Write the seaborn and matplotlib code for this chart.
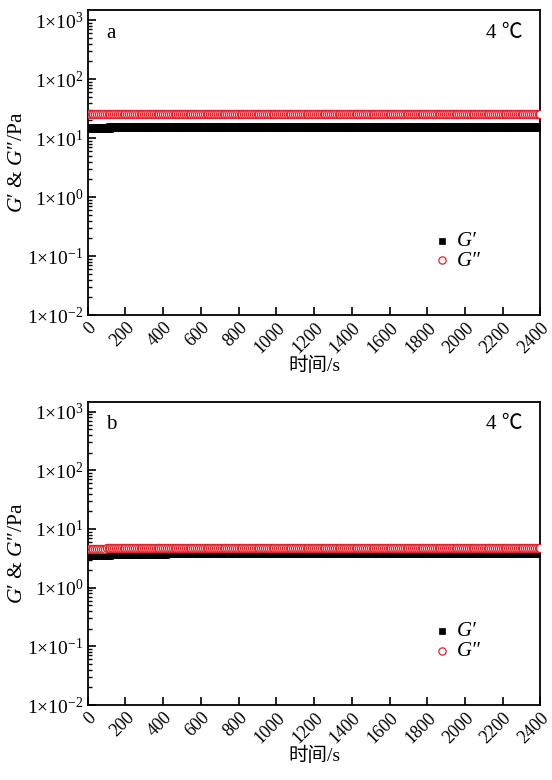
import warnings
warnings.filterwarnings("ignore")

import numpy as np
import pandas as pd
import matplotlib
matplotlib.use("Agg")
import matplotlib.pyplot as plt
import matplotlib.ticker as mticker
import seaborn as sns

###### DATA ######
# sampling grid of the time sweep (s)
time_s = np.arange(0, 2401, 10)
n_pts = len(time_s)

# panel a values (Pa)
g_storage_a = [14.8] * 12 + [15.5] * (n_pts - 12)
g_loss_a = [26.0] * n_pts

# panel b values (Pa)
g_storage_b = [3.6] * 12 + [3.75] * 30 + [3.85] * (n_pts - 42)
g_loss_b = [4.6] * 10 + [4.75] * (n_pts - 10)

x_ticks = list(range(0, 2401, 200))
y_ticks = [1e-2, 1e-1, 1e0, 1e1, 1e2, 1e3]
y_labels = ['1×10$^{-2}$', '1×10$^{-1}$', '1×10$^{0}$',
            '1×10$^{1}$', '1×10$^{2}$', '1×10$^{3}$']

panels = [('a', g_storage_a, g_loss_a), ('b', g_storage_b, g_loss_b)]
temp_label = '4 \u2103'

###### STYLE ######
sns.set_style('ticks')
plt.rcParams['font.family'] = ['Liberation Serif', 'Noto Sans CJK SC', 'DejaVu Sans']
plt.rcParams['mathtext.fontset'] = 'custom'
plt.rcParams['mathtext.rm'] = 'Liberation Serif'
plt.rcParams['mathtext.it'] = 'Liberation Serif:italic'
plt.rcParams['axes.linewidth'] = 1.3
plt.rcParams['axes.edgecolor'] = 'black'
for key in ['text.color', 'axes.labelcolor', 'xtick.color', 'ytick.color']:
    plt.rcParams[key] = 'black'

fig = plt.figure(figsize=(5.52, 7.80), dpi=100)
ax_boxes = [[0.159, 0.596, 0.82, 0.391], [0.159, 0.096, 0.82, 0.389]]

for box, (letter, g1, g2) in zip(ax_boxes, panels):
    ax = fig.add_axes(box)
    df = pd.DataFrame({'time': time_s, 'gp': g1, 'gpp': g2})

    # G' filled squares, G'' open red circles
    sns.scatterplot(data=df, x='time', y='gp', marker='s', s=30, color='black',
                    edgecolor='black', linewidth=0.5, ax=ax, label='G′', zorder=3)
    sns.scatterplot(data=df, x='time', y='gpp', marker='o', s=34, facecolor='white',
                    edgecolor='#e0202a', linewidth=0.9, ax=ax, label='G″', zorder=4)

    ax.set_yscale('log')
    ax.set_xlim(0, 2400)
    ax.set_ylim(1e-2, 1.47e3)
    ax.set_xticks(x_ticks)
    ax.set_xticklabels([str(t) for t in x_ticks], rotation=45, ha='right',
                       rotation_mode='anchor', fontsize=13)
    ax.set_yticks(y_ticks)
    ax.set_yticklabels(y_labels, fontsize=14)
    ax.yaxis.set_minor_locator(mticker.LogLocator(base=10, subs=np.arange(2, 10)))
    ax.yaxis.set_minor_formatter(mticker.NullFormatter())
    ax.tick_params(axis='both', which='major', direction='in', length=6, width=1.2,
                   top=False, right=False, pad=3)
    ax.tick_params(axis='y', which='minor', direction='in', length=3, width=1.0,
                   right=False)
    ax.tick_params(axis='x', which='major', pad=3)

    ax.set_xlabel('时间/s', fontsize=14, labelpad=0)
    ax.set_ylabel('$G$′ & $G$″/Pa', fontsize=15.5, labelpad=0)

    ax.text(0.04, 0.925, letter, transform=ax.transAxes, fontsize=15, va='center')
    ax.text(0.96, 0.925, temp_label, transform=ax.transAxes, fontsize=15,
            va='center', ha='right')

    leg = ax.legend(loc='center left', bbox_to_anchor=(0.715, 0.21), frameon=False,
                    fontsize=15, handletextpad=0.0, labelspacing=0.0,
                    borderpad=0.2, markerscale=0.9, handlelength=1.5)
    for txt in leg.get_texts():
        txt.set_fontstyle('italic')

    for sp in ax.spines.values():
        sp.set_visible(True)

fig.savefig('out.png', dpi=100)
